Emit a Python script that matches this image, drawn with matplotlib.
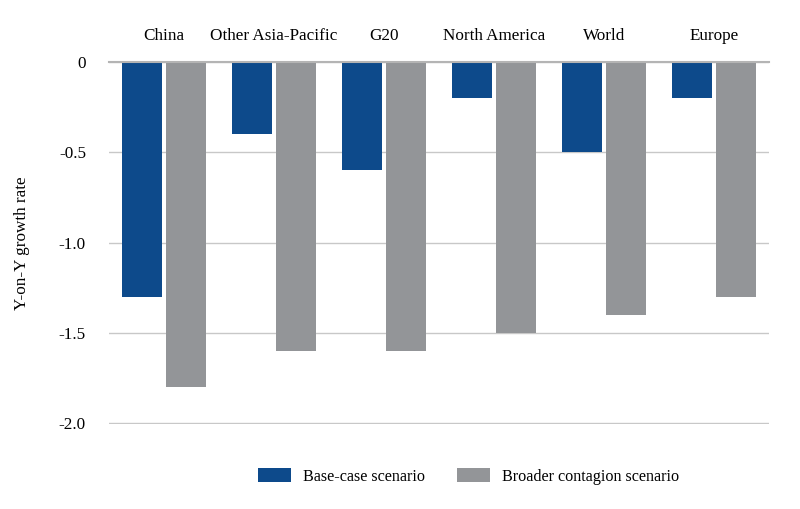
import numpy as np
import matplotlib
matplotlib.use('Agg')
import matplotlib.pyplot as plt

regions = ['China', 'Other Asia-Pacific', 'G20', 'North America', 'World', 'Europe']
base_case = [-1.3, -0.4, -0.6, -0.2, -0.5, -0.2]
broader = [-1.8, -1.6, -1.6, -1.5, -1.4, -1.3]
series_names = ['Base-case scenario', 'Broader contagion scenario']

plt.rcParams['font.family'] = ['Liberation Serif', 'DejaVu Serif']
plt.rcParams['font.size'] = 12.3

blue = '#0d4a8b'
grey = '#939598'

fig = plt.figure(figsize=(8, 5.09), dpi=100)
ax = fig.add_axes([0.136, 0.167, 0.825, 0.711])

x = np.arange(len(regions))
w = 0.36
ax.bar(x - 0.2, base_case, w, color=blue, label=series_names[0], zorder=3)
ax.bar(x + 0.2, broader, w, color=grey, label=series_names[1], zorder=3)

ax.set_xlim(-0.5, len(regions) - 0.5)
ax.set_ylim(-2.004, 0)
ax.set_yticks([0, -0.5, -1.0, -1.5, -2.0])
ax.set_yticklabels(['0', '-0.5', '-1.0', '-1.5', '-2.0'])
ax.yaxis.grid(True, color='#c8c8c8', linewidth=1, zorder=0)
ax.axhline(0, color='#b4b4b4', linewidth=1.5, zorder=4, clip_on=False)
for s in ax.spines.values():
    s.set_visible(False)
ax.tick_params(axis='y', length=0, pad=16.5)

ax.xaxis.tick_top()
ax.set_xticks(x)
ax.set_xticklabels(regions)
ax.tick_params(axis='x', length=0, pad=13)

ax.set_ylabel('Y-on-Y growth rate', labelpad=21)

ax.legend(loc='center', bbox_to_anchor=(0.545, -0.145), ncol=2, frameon=False,
          fontsize=11.6, handlelength=2.05, handleheight=0.9, columnspacing=2.0,
          handletextpad=0.75)

fig.savefig('out.png', dpi=100)
